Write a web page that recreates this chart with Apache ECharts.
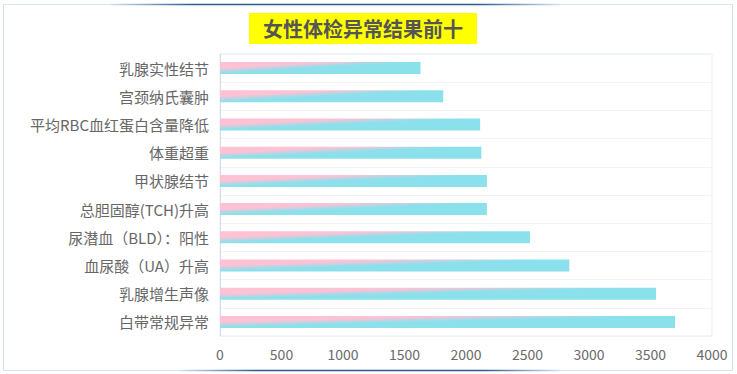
<!DOCTYPE html>
<html><head><meta charset="utf-8">
<script src="https://cdn.jsdelivr.net/npm/echarts@6/dist/echarts.min.js"></script>
<style>html,body{margin:0;padding:0;background:#fff}#c{width:737px;height:374px}</style>
</head><body><div id="c"></div>
<script>
const titleText = '女性体检异常结果前十';
const categories = ['白带常规异常','乳腺增生声像','血尿酸（UA）升高','尿潜血（BLD）：阳性','总胆固醇(TCH)升高','甲状腺结节','体重超重','平均RBC血红蛋白含量降低','宫颈纳氏囊肿','乳腺实性结节'];
const values = [3700, 3545, 2840, 2520, 2170, 2170, 2125, 2115, 1815, 1630];
const xTicks = [0, 4000, 500];

const chart = echarts.init(document.getElementById('c'), null, {renderer: 'svg'});
function hgrad(x1, x2, y, a, b) {
  return new echarts.graphic.LinearGradient(x1, y, x2, y, [
    {offset: 0, color: '#d2e3f3'},
    {offset: a, color: '#2e5c90'},
    {offset: b, color: '#2e5c90'},
    {offset: 1, color: '#d2e3f3'}
  ], true);
}
chart.setOption({
  animation: false,
  title: {
    text: titleText, left: 249, top: 13, padding: [5, 14],
    backgroundColor: '#ffff00',
    textStyle: {fontSize: 20, fontWeight: 'bold', color: '#555', fontFamily: 'Noto Sans CJK SC', lineHeight: 21}
  },
  grid: {left: 220, right: 25, top: 54, bottom: 38, show: true, borderColor: '#e4ecf5', borderWidth: 1},
  xAxis: {
    type: 'value', min: xTicks[0], max: xTicks[1], interval: xTicks[2],
    axisLine: {show: false}, axisTick: {show: false}, splitLine: {show: false},
    axisLabel: {color: '#6a6a6a', fontSize: 14, margin: 11, fontFamily: 'Noto Sans CJK SC', formatter: function (v) { return String(v); }}
  },
  yAxis: {
    type: 'category', data: categories,
    axisLine: {show: true, lineStyle: {color: '#d3dde9', width: 1}},
    axisTick: {show: false},
    splitLine: {show: true, lineStyle: {color: '#f0f3f7'}},
    axisLabel: {color: '#666', fontSize: 15, margin: 11, fontFamily: 'Noto Sans CJK SC'}
  },
  series: [{
    type: 'bar', data: values, barWidth: 12,
    itemStyle: {
      color: new echarts.graphic.LinearGradient(0, 0, 1, 1, [
        {offset: 0, color: '#ffc1d4'},
        {offset: 0.25, color: '#ffc1d4'},
        {offset: 0.47, color: '#8ae1ec'},
        {offset: 1, color: '#8ae1ec'}
      ])
    }
  }],
  graphic: [
    {type: 'rect', silent: true, shape: {x: 3.5, y: 4.5, width: 729, height: 366}, style: {fill: 'none', stroke: '#d2e3f3', lineWidth: 1}},
    {type: 'line', silent: true, shape: {x1: 110, y1: 4.5, x2: 560, y2: 4.5}, style: {stroke: hgrad(110, 560, 4.5, 0.18, 0.82), lineWidth: 1.5}},
    {type: 'line', silent: true, shape: {x1: 180, y1: 370.5, x2: 560, y2: 370.5}, style: {stroke: hgrad(180, 560, 370.5, 0.2, 0.8), lineWidth: 1.5}},
    {type: 'line', silent: true, shape: {x1: 300, y1: 54.5, x2: 580, y2: 54.5}, style: {stroke: hgrad(300, 580, 54.5, 0.25, 0.8), lineWidth: 1}},
    {type: 'line', silent: true, shape: {x1: 330, y1: 336.5, x2: 580, y2: 336.5}, style: {stroke: hgrad(330, 580, 336.5, 0.25, 0.78), lineWidth: 1}}
  ]
});
</script></body></html>
